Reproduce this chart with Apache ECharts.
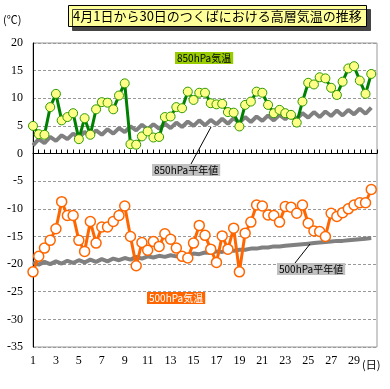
<!DOCTYPE html>
<html><head><meta charset="utf-8">
<script src="https://cdn.jsdelivr.net/npm/echarts@6/dist/echarts.min.js"></script>
<style>html,body{margin:0;padding:0;background:#fff}#c{width:390px;height:389px}</style>
</head><body><div id="c"></div>
<script>
// Half-day time steps (day 1 00h ... day 30 12h)
const steps = Array.from({length:60}, (_, i) => 1 + i * 0.5);
const dayTicks = [1,3,5,7,9,11,13,15,17,19,21,23,25,27,29];
const yTicks = [20,15,10,5,0,-5,-10,-15,-20,-25,-30,-35];

const t850 = [5.0,3.5,3.4,8.4,10.8,6.0,6.6,7.3,2.6,6.4,
  3.4,8.0,9.3,9.2,8.0,10.5,12.7,1.7,1.6,3.1,
  4.0,2.9,3.0,6.6,6.7,8.4,8.2,11.2,9.7,11.0,
  11.0,9.1,8.9,9.0,7.5,7.4,4.9,8.8,9.4,11.2,
  11.0,8.8,7.3,7.9,7.3,7.0,5.6,9.4,12.8,12.5,
  13.8,13.6,11.9,10.6,13.0,15.4,15.8,13.2,10.8,14.4];
const n850 = [1.5,2.6,1.9,3.0,2.3,3.3,2.6,3.6,2.9,3.9,
  3.2,4.2,3.4,4.4,3.6,4.6,3.9,4.9,4.2,5.2,
  4.4,5.3,4.5,5.4,4.6,5.6,4.8,5.8,5.0,6.0,
  5.1,6.1,5.3,6.3,5.4,6.4,5.6,6.6,5.7,6.7,
  5.9,6.9,6.0,7.0,6.2,7.2,6.3,7.3,6.5,7.5,
  6.6,7.6,6.8,7.8,6.9,7.9,7.1,8.1,7.2,8.3];
const t500 = [-21.4,-18.6,-17.1,-15.7,-13.6,-8.7,-11.2,-11.2,-15.7,-17.7,
  -12.3,-16.2,-13.3,-13.3,-12.3,-11.2,-9.5,-15.0,-20.3,-16.1,
  -17.5,-15.9,-16.8,-14.5,-15.5,-17.1,-18.6,-18.9,-16.2,-13.0,
  -14.8,-17.3,-19.7,-14.9,-17.3,-13.5,-21.4,-14.4,-12.4,-9.3,
  -9.5,-11.1,-11.2,-12.4,-9.6,-9.7,-10.8,-9.3,-12.6,-14.0,
  -14.1,-15.0,-10.8,-11.4,-10.7,-10.0,-9.3,-8.9,-8.9,-6.5];
const n500 = [-19.7,-20.1,-19.6,-20.0,-19.5,-19.9,-19.4,-19.8,-19.3,-19.7,
  -19.2,-19.6,-19.1,-19.5,-19.0,-19.3,-18.9,-19.2,-18.7,-19.0,
  -18.6,-18.8,-18.5,-18.7,-18.4,-18.6,-18.3,-18.4,-18.1,-18.2,
  -17.9,-18.0,-17.7,-17.8,-17.5,-17.6,-17.4,-17.4,-17.2,-17.2,
  -17.0,-17.0,-16.8,-16.8,-16.7,-16.6,-16.5,-16.4,-16.3,-16.2,
  -16.1,-16.0,-15.9,-15.8,-15.8,-15.7,-15.6,-15.5,-15.4,-15.3];

const titleText = '4月1日から30日のつくばにおける高層気温の推移';
const pair = arr => steps.map((x, i) => [x, arr[i]]);

const chart = echarts.init(document.getElementById('c'), null, {renderer:'canvas'});
const serif = 'Liberation Serif';
const jp = 'Noto Sans CJK JP';
const labelStyle = (text, x, y, bg, fg) => ({
  type:'text', left:x, top:y, z:100,
  style:{text:text, fill:fg, backgroundColor:bg, font:'10px "'+jp+'"', padding:[1,2,1,2]}
});
chart.setOption({
  animation:false,
  backgroundColor:'#fff',
  title:{
    text:titleText, left:68, top:5,
    backgroundColor:'#ffff99', borderColor:'#000', borderWidth:1,
    padding:[5,5,4,5],
    shadowColor:'#444', shadowOffsetX:4, shadowOffsetY:4, shadowBlur:0,
    textStyle:{fontFamily:jp, fontSize:13, fontWeight:'normal', color:'#000'}
  },
  grid:{left:33, right:13, top:43, bottom:42, show:true, borderColor:'#999', borderWidth:1},
  xAxis:{
    type:'value', min:1, max:31, interval:2,
    axisLine:{show:true, lineStyle:{color:'#000', width:1}},
    axisTick:{show:true, inside:true, length:4, lineStyle:{color:'#000'}},
    minorTick:{show:true, splitNumber:4, length:4, lineStyle:{color:'#000'}},
    splitLine:{show:false},
    axisLabel:{showMaxLabel:false, color:'#000', fontFamily:serif, fontSize:12, margin:8,
      formatter:v => dayTicks.includes(v) ? String(v) : ''}
  },
  yAxis:{
    type:'value', min:-35, max:20, interval:5,
    axisLine:{show:true, lineStyle:{color:'#000', width:1}},
    axisTick:{show:false},
    splitLine:{show:true, lineStyle:{color:'#999', type:[3,2], width:1}},
    axisLabel:{color:'#000', fontFamily:serif, fontSize:12, margin:10,
      formatter:v => yTicks.includes(v) ? String(v) : ''}
  },
  series:[
    {name:'850hPa平年値', type:'line', data:pair(n850), showSymbol:false, symbol:'none',
      lineStyle:{color:'#808080', width:4}, z:1},
    {name:'500hPa平年値', type:'line', data:pair(n500), showSymbol:false, symbol:'none',
      lineStyle:{color:'#808080', width:4}, z:1},
    {name:'850hPa気温', type:'line', data:pair(t850), symbol:'circle', symbolSize:9,
      lineStyle:{color:'#008000', width:3},
      itemStyle:{color:'#ffff88', borderColor:'#2f9a00', borderWidth:1}, z:3},
    {name:'500hPa気温', type:'line', data:pair(t500), symbol:'circle', symbolSize:10,
      lineStyle:{color:'#ff6600', width:3},
      itemStyle:{color:'#ffffff', borderColor:'#ff6600', borderWidth:1.5}, z:3}
  ],
  graphic:[
    {type:'text', left:3, top:14, style:{text:'(℃)', fill:'#000', font:'11px "'+jp+'"'}},
    {type:'text', left:362, top:359, style:{text:'(日)', fill:'#000', font:'11px "'+jp+'"'}},
    labelStyle('850hPa気温', 175, 52, '#99cc00', '#000'),
    labelStyle('850hPa平年値', 152, 164, '#c0c0c0', '#000'),
    labelStyle('500hPa気温', 147, 292, '#ff6600', '#fff'),
    labelStyle('500hPa平年値', 277, 263, '#c0c0c0', '#000'),
    {type:'line', z:99, shape:{x1:191, y1:164, x2:211, y2:127}, style:{stroke:'#000', lineWidth:1}},
    {type:'line', z:99, shape:{x1:295, y1:263, x2:310, y2:244}, style:{stroke:'#000', lineWidth:1}}
  ]
});
</script></body></html>
